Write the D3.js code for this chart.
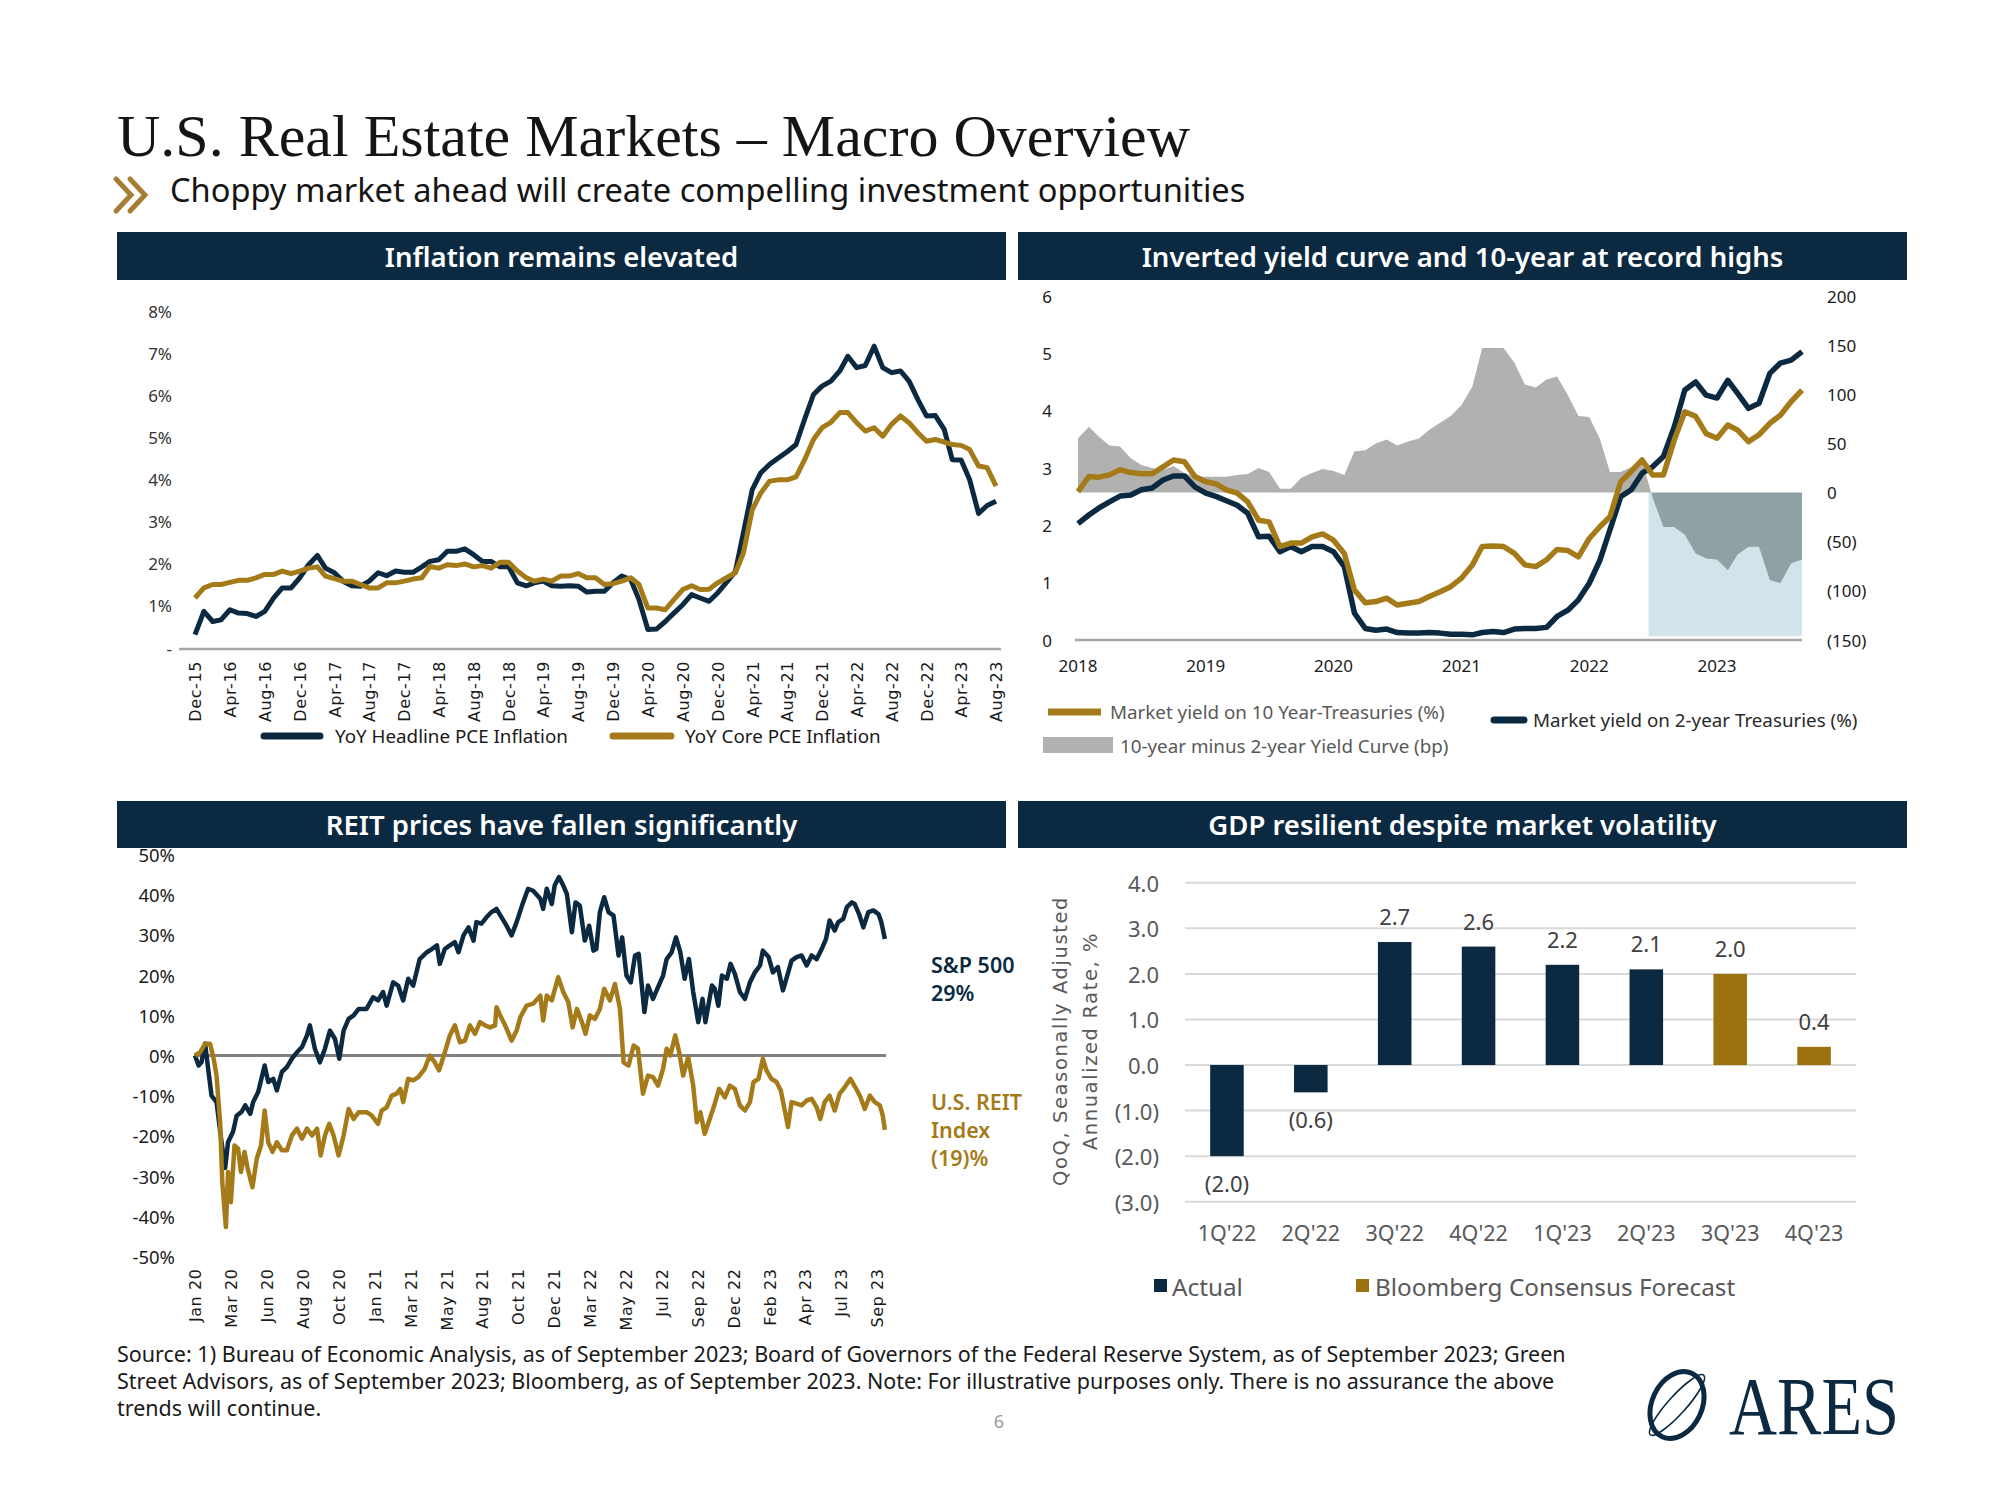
<!DOCTYPE html>
<html><head><meta charset="utf-8">
<script src="https://cdn.jsdelivr.net/npm/d3@7"></script>
<style>body{margin:0;background:#fff}svg{display:block}</style>
</head><body>
<svg id="c" width="2000" height="1500"></svg>
<script>
// ---------------- DATA ----------------
// Panel 1: monthly YoY PCE inflation (%), Dec-2015 .. Aug-2023
const headlinePCE = [0.32,
 0.87,0.63,0.67,0.91,0.83,0.82,0.75,0.87,1.19,1.43,1.43,1.67,
 1.98,2.2,1.9,1.79,1.59,1.48,1.47,1.59,1.79,1.72,1.83,1.8,
 1.8,1.93,2.06,2.1,2.3,2.3,2.36,2.22,2.06,2.06,1.93,1.94,
 1.55,1.48,1.55,1.59,1.48,1.47,1.48,1.47,1.33,1.35,1.35,1.55,
 1.71,1.63,1.15,0.44,0.45,0.63,0.83,1.03,1.27,1.19,1.11,1.31,
 1.56,1.82,2.74,3.77,4.17,4.37,4.52,4.67,4.84,5.44,6.03,6.23,
 6.35,6.59,6.94,6.67,6.72,7.18,6.67,6.55,6.59,6.35,5.91,5.52,
 5.53,5.2,4.48,4.47,4.0,3.2,3.39,3.49];
const corePCE = [1.19,
 1.43,1.51,1.51,1.56,1.61,1.61,1.67,1.75,1.75,1.83,1.77,1.83,
 1.9,1.93,1.71,1.65,1.59,1.59,1.51,1.43,1.43,1.55,1.55,1.59,
 1.64,1.67,1.94,1.9,1.98,1.96,2.0,1.93,1.96,1.9,2.04,2.04,
 1.83,1.67,1.59,1.64,1.59,1.71,1.71,1.77,1.67,1.67,1.51,1.53,
 1.59,1.67,1.51,0.95,0.95,0.91,1.15,1.39,1.48,1.39,1.4,1.55,
 1.67,1.79,2.26,3.29,3.69,3.97,4.0,4.0,4.07,4.48,4.96,5.24,
 5.37,5.6,5.6,5.36,5.16,5.24,5.04,5.32,5.52,5.36,5.12,4.92,
 4.96,4.9,4.84,4.82,4.72,4.33,4.29,3.85];
const pceYTicks = [0,1,2,3,4,5,6,7,8];

// Panel 2: monthly, Jan-2018 .. Sep-2023
const tsy10 = [2.59,2.85,2.84,2.88,2.97,2.92,2.9,2.9,3.02,3.14,3.11,2.85,
 2.76,2.72,2.62,2.56,2.41,2.09,2.06,1.63,1.69,1.69,1.8,1.85,
 1.74,1.51,0.87,0.65,0.67,0.73,0.61,0.64,0.67,0.76,0.84,0.93,
 1.08,1.31,1.63,1.64,1.63,1.51,1.31,1.28,1.4,1.58,1.56,1.45,
 1.77,1.98,2.15,2.76,2.94,3.14,2.88,2.88,3.49,3.98,3.9,3.6,
 3.52,3.75,3.66,3.46,3.58,3.78,3.92,4.16,4.36];
const tsy2 = [2.03,2.18,2.3,2.41,2.51,2.53,2.62,2.65,2.79,2.86,2.86,2.67,
 2.56,2.5,2.43,2.35,2.21,1.8,1.81,1.54,1.63,1.54,1.63,1.63,
 1.54,1.28,0.47,0.2,0.17,0.19,0.13,0.12,0.12,0.13,0.12,0.1,
 0.1,0.09,0.13,0.15,0.13,0.19,0.2,0.2,0.22,0.41,0.52,0.7,
 0.99,1.4,1.92,2.5,2.62,2.91,3.02,3.2,3.72,4.36,4.5,4.27,
 4.22,4.53,4.3,4.04,4.13,4.65,4.83,4.88,5.03];
const curveBp = [55,67,57,48,47,35,28,25,23,27,20,16,
 16,16,16,18,19,25,21,4,4,15,20,24,
 22,18,42,43,50,54,48,52,55,64,71,78,
 89,108,147,147,147,132,110,107,115,118,99,78,
 77,54,21,21,26,32,-5,-35,-35,-43,-62,-67,
 -68,-79,-63,-55,-55,-89,-92,-72,-68];
const yieldLeftTicks = [0,1,2,3,4,5,6];
const yieldRightTicks = [-150,-100,-50,0,50,100,150,200];
const inversionFloorBp = -146;

// Panel 3: cumulative return since Jan-2020 (%), by trading day
const spxSeries = [[0,0],[5,-2.5],[9,-1.7],[14,3],[23,-10],[30,-11.6],[37,-21.6],[42,-28],[46,-21.6],[53,-19],[58,-15],[65,-14],[70,-12.4],[77,-14.5],[81,-11.6],[88,-9.1],[97,-2.5],[102,-6.6],[109,-5.8],[114,-8.7],[121,-4.1],[128,-2.9],[135,-0.8],[142,0.8],[149,2.1],[156,5],[160,7.5],[167,1.7],[174,-1.7],[181,1.7],[188,6.2],[195,4.1],[201,-0.8],[207,6.2],[214,9.1],[221,10],[228,11.6],[239,11.6],[248,14.5],[255,13.7],[262,15.8],[267,12.4],[276,18.2],[283,17.4],[290,13.7],[297,19.1],[304,17.4],[313,24],[323,25.7],[330,26.5],[337,27.4],[341,22.8],[348,26.5],[355,27.4],[362,28.2],[367,25.7],[374,29.9],[381,31.9],[388,28.6],[392,33.2],[399,32.8],[406,34.4],[413,35.7],[420,36.5],[427,34.4],[434,32.3],[441,29.9],[448,33.2],[457,38.1],[464,41.5],[471,41],[481,39],[485,36.5],[490,41.5],[497,37.7],[501,42.3],[507,44.4],[513,42.3],[518,40.2],[525,30.7],[530,38.1],[536,37.3],[543,28.6],[549,32.3],[555,26.1],[559,26.5],[564,35.7],[570,39.4],[576,35.7],[583,34.8],[590,24.9],[595,29.4],[601,19.9],[607,18.2],[613,24.9],[618,25.3],[626,10.8],[631,17.4],[638,14.1],[645,17],[652,19.9],[657,24],[664,25.7],[670,29.4],[676,25.7],[682,19.1],[688,24],[694,15.8],[701,8.3],[707,14.1],[711,8.3],[720,17.4],[724,16.6],[729,12.4],[734,19.9],[741,19.1],[746,22.8],[752,20.3],[759,15.8],[766,14.1],[773,18.2],[780,20.7],[787,22.4],[791,26.1],[799,24.5],[805,20.7],[812,22],[819,16.2],[825,19.9],[831,23.6],[838,24.5],[845,24.9],[852,22.4],[859,24.9],[866,24],[873,26.5],[879,29],[884,33.6],[891,31.1],[896,33.2],[903,34],[908,36.9],[915,38.1],[919,37.7],[925,35.2],[931,31.9],[938,35.7],[945,36.1],[952,35.2],[956,33.2],[961,29]];
const reitSeries = [[0,0],[7,0.8],[14,2.9],[21,2.9],[26,-0.8],[30,-5],[35,-16.6],[38,-31.5],[43,-42.7],[46,-29],[50,-36.5],[55,-22.4],[60,-23.2],[64,-29],[69,-24],[73,-27.8],[80,-32.8],[86,-25.7],[92,-22.4],[97,-13.7],[102,-21.6],[108,-24],[114,-21.6],[121,-23.6],[128,-23.6],[135,-19.9],[142,-18.2],[149,-20.7],[156,-18.2],[163,-19.9],[170,-18.2],[175,-24.9],[181,-19.9],[187,-17],[193,-19.9],[200,-24.9],[207,-19.9],[214,-13.3],[221,-15.8],[228,-14.1],[239,-14.1],[246,-14.9],[255,-17],[260,-13.7],[267,-12.9],[274,-10],[281,-9.5],[286,-8.3],[290,-11.6],[297,-5.8],[304,-6.2],[311,-5.4],[320,-3.3],[327,0],[334,-1.7],[340,-3.7],[348,0.8],[355,5],[362,7.5],[369,3.3],[376,3.7],[383,7.5],[390,5.4],[397,8.3],[404,7.5],[411,7],[418,7.5],[420,12],[425,10],[432,7.5],[441,3.7],[448,6.2],[453,9.5],[462,12.4],[471,12.9],[481,14.9],[485,8.7],[490,14.9],[497,13.7],[506,19.5],[513,15.8],[520,13.3],[526,7],[532,11.6],[539,8.3],[544,5.4],[550,10],[557,9.1],[564,11.6],[570,16.6],[578,13.7],[585,17.8],[592,11.6],[597,-1.7],[604,-2.5],[611,2.5],[617,1.7],[624,-9.5],[631,-5],[638,-5.4],[645,-7.5],[652,-3.3],[657,1.7],[662,0],[669,5],[674,1.2],[680,-5],[687,-0.4],[694,-7.5],[699,-16.6],[704,-14.1],[710,-19.5],[717,-15.8],[724,-12],[730,-8.3],[738,-10.4],[745,-7.5],[752,-8.3],[759,-12.4],[766,-13.7],[773,-11.6],[778,-6.6],[785,-5.8],[791,-0.8],[796,-3.7],[803,-5.8],[810,-6.6],[816,-8.7],[822,-14.1],[826,-17.8],[831,-11.6],[838,-12],[845,-12.4],[852,-11.2],[859,-10.8],[866,-12.9],[871,-15.8],[877,-11.6],[884,-10],[891,-13.7],[898,-9.5],[905,-7.9],[913,-5.8],[921,-8.3],[927,-10.4],[933,-13.3],[940,-10],[947,-11.6],[954,-12.4],[958,-14.9],[961,-18.5]];
const reitTickLabels = ["Jan 20","Mar 20","Jun 20","Aug 20","Oct 20","Jan 21","Mar 21","May 21","Aug 21","Oct 21","Dec 21","Mar 22","May 22","Jul 22","Sep 22","Dec 22","Feb 23","Apr 23","Jul 23","Sep 23"];
const reitTickStep = 50; // trading days between labels
const reitYTicks = [-50,-40,-30,-20,-10,0,10,20,30,40,50];

// Panel 4: GDP
const gdpQuarters = ["1Q'22","2Q'22","3Q'22","4Q'22","1Q'23","2Q'23","3Q'23","4Q'23"];
const gdpValues = [-2.0,-0.6,2.7,2.6,2.2,2.1,2.0,0.4];
const gdpType = ["Actual","Actual","Actual","Actual","Actual","Actual","Forecast","Forecast"];
const gdpYTicks = [-3,-2,-1,0,1,2,3,4];

// ---------------- STYLE ----------------
const NAVY = "#0b2a42", GOLD = "#a57b1a", GOLDBAR = "#9c7210";
const SANS = "'Noto Sans', sans-serif", WIDE = "'DejaVu Sans', sans-serif";
const svg = d3.select("#c");

// ---------------- TITLE ----------------
svg.append("text").attr("x",117).attr("y",156).attr("font-family","'Liberation Serif', serif")
  .attr("font-size",60).attr("fill","#151515").text("U.S. Real Estate Markets \u2013 Macro Overview");
[0,14].forEach(dx=>{
  svg.append("polyline").attr("points",`${116+dx},179 ${131+dx},195 ${116+dx},211`)
    .attr("fill","none").attr("stroke","#a57d33").attr("stroke-width",5).attr("stroke-linecap","round");
});
svg.append("text").attr("x",170).attr("y",202).attr("font-family",SANS).attr("font-size",32.6)
  .attr("fill","#151515").text("Choppy market ahead will create compelling investment opportunities");

// headers
function header(x0,x1,y0,y1,t){
  svg.append("rect").attr("x",x0).attr("y",y0).attr("width",x1-x0).attr("height",y1-y0).attr("fill",NAVY);
  svg.append("text").attr("x",(x0+x1)/2).attr("y",(y0+y1)/2).attr("text-anchor","middle")
    .attr("dominant-baseline","central").attr("font-family",SANS).attr("font-weight",600)
    .attr("font-size",27.5).attr("fill","#fff").text(t);
}

// ---------------- PANEL 1 ----------------
{
  const g = svg.append("g");
  const start = new Date(2015,11,1);
  const months = headlinePCE.map((_,i)=>d3.timeMonth.offset(start,i));
  const x = d3.scaleTime().domain([start, months[months.length-1]]).range([195,996]);
  const y = d3.scaleLinear().domain([0,8]).range([648,311.7]);
  g.selectAll(".yl").data(pceYTicks).join("text").attr("x",172).attr("y",d=>y(d))
    .attr("text-anchor","end").attr("dominant-baseline","central").attr("font-family",SANS)
    .attr("font-size",17).attr("fill","#333").text(d=>d===0?"-":d+"%");
  g.append("line").attr("x1",179).attr("x2",1001).attr("y1",y(0)+1).attr("y2",y(0)+1)
    .attr("stroke","#a6a6a6").attr("stroke-width",2.5);
  const ax = d3.axisBottom(x).tickValues(months.filter((d,i)=>i%4===0))
    .tickFormat(d3.timeFormat("%b-%y")).tickSize(0);
  const ag = g.append("g").attr("transform",`translate(0,${y(0)})`).call(ax);
  ag.select(".domain").remove();
  ag.selectAll("text").attr("transform","rotate(-90)").attr("text-anchor","end")
    .attr("x",-13).attr("y",0).attr("dy","0.36em").attr("font-family",WIDE)
    .attr("font-size",16).attr("letter-spacing",0.6).attr("fill","#1a1a1a");
  const line = d3.line().x((d,i)=>x(months[i])).y(d=>y(d));
  g.append("path").attr("d",line(headlinePCE)).attr("fill","none").attr("stroke",NAVY)
    .attr("stroke-width",5).attr("stroke-linejoin","round");
  g.append("path").attr("d",line(corePCE)).attr("fill","none").attr("stroke",GOLD)
    .attr("stroke-width",5).attr("stroke-linejoin","round");
  const leg = [{c:NAVY,x0:264,x1:320,tx:335,t:"YoY Headline PCE Inflation"},
               {c:GOLD,x0:613,x1:671,tx:685,t:"YoY Core PCE Inflation"}];
  leg.forEach(l=>{
    g.append("line").attr("x1",l.x0).attr("x2",l.x1).attr("y1",736).attr("y2",736)
      .attr("stroke",l.c).attr("stroke-width",7).attr("stroke-linecap","round");
    g.append("text").attr("x",l.tx).attr("y",736).attr("dominant-baseline","central")
      .attr("font-family",SANS).attr("font-size",18.8).attr("fill","#1a1a1a").text(l.t);
  });
}

// ---------------- PANEL 2 ----------------
{
  const g = svg.append("g");
  const start = new Date(2018,0,1);
  const months = tsy10.map((_,i)=>d3.timeMonth.offset(start,i));
  const last = months[months.length-1];
  const x = d3.scaleTime().domain([start,new Date(2023,0,1)]).range([1078,1717]);
  const yL = d3.scaleLinear().domain([0,6]).range([640,296]);
  const yR = d3.scaleLinear().domain([-150,200]).range([640,296]);
  const firstNeg = months[curveBp.findIndex(v=>v<0)];
  g.append("rect").attr("x",x(firstNeg)-4).attr("y",yR(0)).attr("width",x(last)-x(firstNeg)+4)
    .attr("height",yR(inversionFloorBp)-yR(0)).attr("fill","#d0e4ea");
  const defs = svg.append("defs");
  defs.append("clipPath").attr("id","cpPos").append("rect").attr("x",1000).attr("y",0).attr("width",900).attr("height",yR(0));
  defs.append("clipPath").attr("id","cpNeg").append("rect").attr("x",1000).attr("y",yR(0)).attr("width",900).attr("height",400);
  const area = d3.area().x((d,i)=>x(months[i])).y0(yR(0)).y1(d=>yR(d));
  g.append("path").attr("d",area(curveBp)).attr("fill","#b1b1af").attr("clip-path","url(#cpPos)");
  g.append("path").attr("d",area(curveBp)).attr("fill","#8ea1a4").attr("clip-path","url(#cpNeg)");
  g.append("line").attr("x1",1075).attr("x2",x(last)).attr("y1",yL(0)).attr("y2",yL(0))
    .attr("stroke","#a6a6a6").attr("stroke-width",2.5);
  g.selectAll(".yl").data(yieldLeftTicks).join("text").attr("x",1052).attr("y",d=>yL(d))
    .attr("text-anchor","end").attr("dominant-baseline","central").attr("font-family",SANS)
    .attr("font-size",17).attr("fill","#1a1a1a").text(d=>d);
  g.selectAll(".yr").data(yieldRightTicks).join("text").attr("x",1827).attr("y",d=>yR(d))
    .attr("dominant-baseline","central").attr("font-family",SANS)
    .attr("font-size",17).attr("fill","#1a1a1a").text(d=>d<0?`(${-d})`:d);
  const years = d3.timeYear.range(start,new Date(2024,0,1));
  g.selectAll(".xl").data(years).join("text").attr("x",d=>x(d)).attr("y",665)
    .attr("text-anchor","middle").attr("dominant-baseline","central").attr("font-family",SANS)
    .attr("font-size",17).attr("fill","#1a1a1a").text(d3.timeFormat("%Y"));
  const line = d3.line().x((d,i)=>x(months[i])).y(d=>yL(d));
  g.append("path").attr("d",line(tsy2)).attr("fill","none").attr("stroke",NAVY)
    .attr("stroke-width",5.5).attr("stroke-linejoin","round");
  g.append("path").attr("d",line(tsy10)).attr("fill","none").attr("stroke",GOLD)
    .attr("stroke-width",5.5).attr("stroke-linejoin","round");
  g.append("line").attr("x1",1048).attr("x2",1101).attr("y1",712).attr("y2",712).attr("stroke",GOLD).attr("stroke-width",7);
  g.append("text").attr("x",1110).attr("y",712).attr("dominant-baseline","central").attr("font-family",SANS)
    .attr("font-size",18.8).attr("fill","#595959").text("Market yield on 10 Year-Treasuries (%)");
  g.append("rect").attr("x",1043).attr("y",737).attr("width",70).attr("height",16).attr("fill","#b1b1af");
  g.append("text").attr("x",1120).attr("y",746).attr("dominant-baseline","central").attr("font-family",SANS)
    .attr("font-size",18.8).attr("fill","#595959").text("10-year minus 2-year Yield Curve (bp)");
  g.append("line").attr("x1",1494).attr("x2",1524).attr("y1",720).attr("y2",720).attr("stroke",NAVY)
    .attr("stroke-width",7).attr("stroke-linecap","round");
  g.append("text").attr("x",1533).attr("y",720).attr("dominant-baseline","central").attr("font-family",SANS)
    .attr("font-size",18.8).attr("fill","#2a2a2a").text("Market yield on 2-year Treasuries (%)");
}

// ---------------- PANEL 3 ----------------
{
  const g = svg.append("g");
  const x = d3.scaleLinear().domain([0,(reitTickLabels.length-1)*reitTickStep]).range([195,877]);
  const y = d3.scaleLinear().domain([-50,50]).range([1256.4,854.6]);
  g.selectAll(".yl").data(reitYTicks).join("text").attr("x",175).attr("y",d=>y(d))
    .attr("text-anchor","end").attr("dominant-baseline","central").attr("font-family",SANS)
    .attr("font-size",18.5).attr("fill","#1a1a1a").text(d=>d+"%");
  g.append("line").attr("x1",194).attr("x2",886).attr("y1",y(0)).attr("y2",y(0))
    .attr("stroke","#808080").attr("stroke-width",3);
  const ax = d3.axisBottom(x).tickValues(reitTickLabels.map((_,i)=>i*reitTickStep))
    .tickFormat((d,i)=>reitTickLabels[i]).tickSize(0);
  const ag = g.append("g").attr("transform",`translate(0,${y(-50)})`).call(ax);
  ag.select(".domain").remove();
  ag.selectAll("text").attr("transform","rotate(-90)").attr("text-anchor","end")
    .attr("x",-12).attr("y",0).attr("dy","0.36em").attr("font-family",WIDE)
    .attr("font-size",16).attr("letter-spacing",0.6).attr("fill","#1a1a1a");
  const line = d3.line().x(d=>x(d[0])).y(d=>y(d[1]));
  g.append("path").attr("d",line(spxSeries)).attr("fill","none").attr("stroke",NAVY)
    .attr("stroke-width",4.5).attr("stroke-linejoin","round");
  g.append("path").attr("d",line(reitSeries)).attr("fill","none").attr("stroke",GOLD)
    .attr("stroke-width",4.5).attr("stroke-linejoin","round");
  [["S&P 500",964,NAVY],["29%",992,NAVY],["U.S. REIT",1101,GOLD],["Index",1129,GOLD],["(19)%",1157,GOLD]]
    .forEach(([t,yy,c])=>g.append("text").attr("x",931).attr("y",yy).attr("dominant-baseline","central")
      .attr("font-family",SANS).attr("font-weight",600).attr("font-size",21.5).attr("fill",c).text(t));
}

// ---------------- PANEL 4 ----------------
{
  const g = svg.append("g");
  const x = d3.scaleBand().domain(gdpQuarters).range([1185,1856]).paddingInner(0.6).paddingOuter(0.3);
  const y = d3.scaleLinear().domain([-3,4]).range([1201.7,882.8]);
  const fmt = v => v<0 ? `(${(-v).toFixed(1)})` : v.toFixed(1);
  g.selectAll(".gl").data(gdpYTicks).join("line").attr("x1",1185).attr("x2",1856)
    .attr("y1",d=>y(d)).attr("y2",d=>y(d)).attr("stroke","#d9d9d9").attr("stroke-width",2);
  g.selectAll(".yl").data(gdpYTicks).join("text").attr("x",1159).attr("y",d=>y(d))
    .attr("text-anchor","end").attr("dominant-baseline","central").attr("font-family",SANS)
    .attr("font-size",22).attr("fill","#595959").text(fmt);
  g.selectAll(".bar").data(gdpValues).join("rect")
    .attr("x",(d,i)=>x(gdpQuarters[i])).attr("width",x.bandwidth())
    .attr("y",d=>y(Math.max(0,d))).attr("height",d=>Math.abs(y(d)-y(0)))
    .attr("fill",(d,i)=>gdpType[i]==="Actual"?NAVY:GOLDBAR);
  g.selectAll(".vl").data(gdpValues).join("text")
    .attr("x",(d,i)=>x(gdpQuarters[i])+x.bandwidth()/2)
    .attr("y",d=>d>=0?y(d)-26:y(d)+27).attr("text-anchor","middle").attr("dominant-baseline","central")
    .attr("font-family",SANS).attr("font-size",22).attr("fill","#404040").text(fmt);
  g.selectAll(".xl").data(gdpQuarters).join("text").attr("x",d=>x(d)+x.bandwidth()/2).attr("y",1232)
    .attr("text-anchor","middle").attr("dominant-baseline","central").attr("font-family",SANS)
    .attr("font-size",21.5).attr("fill","#595959").text(d=>d);
  const tt = g.append("text").attr("transform","translate(1060,1041) rotate(-90)").attr("text-anchor","middle")
    .attr("font-family",WIDE).attr("font-size",19.5).attr("letter-spacing",1.6).attr("fill","#595959");
  tt.append("tspan").attr("x",0).attr("dy","0.35em").text("QoQ, Seasonally  Adjusted");
  tt.append("tspan").attr("x",0).attr("dy",30).text("Annualized Rate, %");
  [[1154,NAVY,1172,"Actual"],[1356,GOLDBAR,1375,"Bloomberg Consensus Forecast"]].forEach(([sx,c,tx,t])=>{
    g.append("rect").attr("x",sx).attr("y",1279).attr("width",13).attr("height",13).attr("fill",c);
    g.append("text").attr("x",tx).attr("y",1286).attr("dominant-baseline","central").attr("font-family",SANS)
      .attr("font-size",24.3).attr("fill","#595959").text(t);
  });
}

// headers (drawn on top)
header(117,1006,232,280,"Inflation remains elevated");
header(1018,1907,232,280,"Inverted yield curve and 10-year at record highs");
header(117,1006,801,848,"REIT prices have fallen significantly");
header(1018,1907,801,848,"GDP resilient despite market volatility");

// ---------------- FOOTER ----------------
const foot = ["Source: 1) Bureau of Economic Analysis, as of September 2023; Board of Governors of the Federal Reserve System, as of September 2023; Green",
  "Street Advisors, as of September 2023; Bloomberg, as of September 2023. Note: For illustrative purposes only. There is no assurance the above",
  "trends will continue."];
svg.selectAll(".ft").data(foot).join("text").attr("x",117).attr("y",(d,i)=>1353+i*27)
  .attr("dominant-baseline","central").attr("font-family",SANS).attr("font-size",21.5).attr("fill","#1a1a1a").text(d=>d);
svg.append("text").attr("x",999).attr("y",1421).attr("text-anchor","middle").attr("dominant-baseline","central")
  .attr("font-family",SANS).attr("font-size",18).attr("fill","#9a9a9a").text("6");

// logo
const lg = svg.append("g").attr("transform","translate(1677,1405)");
lg.append("ellipse").attr("rx",25).attr("ry",35).attr("transform","rotate(25)").attr("fill","none").attr("stroke",NAVY).attr("stroke-width",5);
lg.append("ellipse").attr("rx",9).attr("ry",40).attr("transform","rotate(42)").attr("fill","none").attr("stroke",NAVY).attr("stroke-width",1.6);
svg.append("text").attr("x",1729).attr("y",1434).attr("font-family","'Liberation Serif', serif").attr("font-size",82)
  .attr("textLength",170).attr("lengthAdjust","spacingAndGlyphs").attr("fill",NAVY).text("ARES");
</script>
</body></html>
